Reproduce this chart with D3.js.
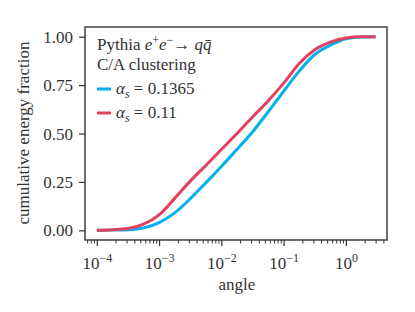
<!DOCTYPE html>
<html>
<head>
<meta charset="utf-8">
<script src="https://cdn.jsdelivr.net/npm/d3@7"></script>
<style>
  body { margin: 0; background: #fff; }
  text { font-family: "Liberation Serif", "DejaVu Serif", serif; fill: #333; }
</style>
</head>
<body>
<svg id="chart" width="415" height="312"></svg>
<script>
// angle values (log spaced samples)
var angles = [1e-4, 1.78e-4, 3.16e-4, 5.62e-4, 1e-3, 1.78e-3, 3.16e-3, 5.62e-3,
              1e-2, 1.78e-2, 3.16e-2, 5.62e-2, 0.1, 0.178, 0.316, 0.562, 1, 1.78, 3.0];
var fracHigh = [0.000, 0.001, 0.003, 0.012, 0.040, 0.090, 0.163, 0.245, 0.330, 0.418,
                0.508, 0.611, 0.718, 0.822, 0.908, 0.956, 0.989, 0.998, 1.000];
var fracLow = [0.000, 0.003, 0.009, 0.032, 0.080, 0.165, 0.254, 0.335, 0.417, 0.500,
               0.585, 0.668, 0.760, 0.862, 0.933, 0.972, 0.993, 1.000, 1.000];
var seriesNames = ['0.1365', '0.11'];
var seriesColors = ['#00b0f0', '#e2405e'];
var yTicks = [0, 0.25, 0.5, 0.75, 1];
var xTicks = [1e-4, 1e-3, 1e-2, 1e-1, 1];
var xTickExp = ['\u22124', '\u22123', '\u22122', '\u22121', '0'];

(function () {
      'use strict';

      var svg = d3.select('#chart');
      var m = { left: 85, right: 387, top: 27, bottom: 240 };

      var x = d3.scaleLog()
            .domain([Math.pow(10, -4.19), Math.pow(10, 0.66)])
            .range([m.left, m.right]);
      var y = d3.scaleLinear()
            .domain([-0.05, 1.05])
            .range([m.bottom, m.top]);

      var series = [
            { name: seriesNames[0], color: seriesColors[0], values: fracHigh },
            { name: seriesNames[1], color: seriesColors[1], values: fracLow }
      ];

      var line = d3.line()
            .x(function(d) { return x(d[0]); })
            .y(function(d) { return y(d[1]); })
            .curve(d3.curveMonotoneX);

      svg.append('g').selectAll('path')
            .data(series)
            .enter().append('path')
            .attr('fill', 'none')
            .attr('stroke', function(d) { return d.color; })
            .attr('stroke-width', 3)
            .attr('d', function(d) { return line(angles.map(function(a, i) { return [a, d.values[i]]; })); });

      // y axis
      var gy = svg.append('g').attr('transform', 'translate(' + m.left + ',0)')
            .call(d3.axisLeft(y).tickValues(yTicks).tickSize(6).tickPadding(6)
                  .tickFormat(d3.format('.2f')));
      gy.select('.domain').remove();
      gy.selectAll('line').attr('stroke', '#333').attr('stroke-width', 1.2);
      gy.selectAll('text').attr('font-size', 17).attr('font-family', '"Liberation Serif", serif')
            .attr('fill', '#333').attr('dy', '0.33em');

      // x axis, minor ticks first
      var minor = [];
      for (var e = -5; e <= 0; e++) {
            for (var k = 2; k <= 9; k++) {
                  var v = k * Math.pow(10, e);
                  if (x(v) >= m.left && x(v) <= m.right) minor.push(v);
            }
      }
      var gxm = svg.append('g').attr('transform', 'translate(0,' + m.bottom + ')')
            .call(d3.axisBottom(x).tickValues(minor).tickSize(3.5).tickFormat(''));
      gxm.select('.domain').remove();
      gxm.selectAll('line').attr('stroke', '#333').attr('stroke-width', 1);

      var gx = svg.append('g').attr('transform', 'translate(0,' + m.bottom + ')')
            .call(d3.axisBottom(x).tickValues(xTicks).tickSize(6).tickFormat(''));
      gx.select('.domain').remove();
      gx.selectAll('line').attr('stroke', '#333').attr('stroke-width', 1.2);
      gx.selectAll('.tick').append('text')
            .attr('y', 29)
            .attr('text-anchor', 'middle')
            .attr('font-size', 17)
            .attr('fill', '#333')
            .each(function(d, i) {
                  var t = d3.select(this);
                  t.append('tspan').text('10');
                  t.append('tspan').attr('dy', -7).attr('font-size', 12).text(xTickExp[i]);
            });

      // frame
      svg.append('rect')
            .attr('x', m.left).attr('y', m.top)
            .attr('width', m.right - m.left).attr('height', m.bottom - m.top)
            .attr('fill', 'none').attr('stroke', '#333').attr('stroke-width', 1.4);

      // axis labels
      svg.append('text').attr('x', (m.left + m.right) / 2 + 1).attr('y', 290)
            .attr('text-anchor', 'middle').attr('font-size', 17).text('angle');
      svg.append('text').attr('transform', 'translate(29,133) rotate(-90)')
            .attr('text-anchor', 'middle').attr('font-size', 17).text('cumulative energy fraction');

      // legend
      var leg = svg.append('g').attr('font-size', 17);
      var t1 = leg.append('text').attr('x', 97).attr('y', 50);
      t1.append('tspan').text('Pythia ');
      t1.append('tspan').attr('font-style', 'italic').text('e');
      t1.append('tspan').attr('dy', -6).attr('font-size', 12).text('+');
      t1.append('tspan').attr('dy', 6).attr('font-style', 'italic').text('e');
      t1.append('tspan').attr('dy', -6).attr('font-size', 12).text('\u2212');
      t1.append('tspan').attr('dy', 6).text('\u2192 ');
      t1.append('tspan').attr('font-style', 'italic').text('q');
      t1.append('tspan').attr('font-style', 'italic').text('q\u0304');
      leg.append('text').attr('x', 97).attr('y', 70).text('C/A clustering');

      var items = leg.selectAll('g.item')
            .data(series)
            .enter().append('g')
            .attr('class', 'item')
            .attr('transform', function(d, i) { return 'translate(97,' + (89 + i * 24) + ')'; });
      items.append('line')
            .attr('x1', 0).attr('x2', 14)
            .attr('stroke', function(d) { return d.color; })
            .attr('stroke-width', 3);
      var lt = items.append('text').attr('x', 19).attr('y', 5);
      lt.append('tspan').attr('font-style', 'italic').text('\u03b1');
      lt.append('tspan').attr('dy', 4).attr('font-size', 12).attr('font-style', 'italic').text('s');
      lt.append('tspan').attr('dy', -4).text(function(d) { return ' = ' + d.name; });
})();
</script>
</body>
</html>
